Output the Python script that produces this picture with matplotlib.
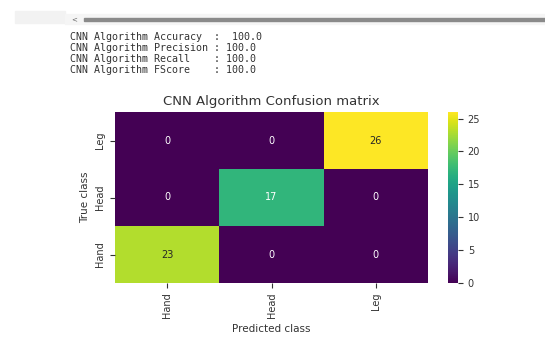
import matplotlib
matplotlib.use("Agg")
import matplotlib.pyplot as plt
import seaborn as sns
import numpy as np

# Printed metrics above the plot
algo = "CNN Algorithm"
metric_names = ["Accuracy  :  ", "Precision : ", "Recall    : ", "FScore    : "]
metric_values = [100.0, 100.0, 100.0, 100.0]

# Confusion matrix, rows as displayed top to bottom
row_labels = ["Leg", "Head", "Hand"]
col_labels = ["Hand", "Head", "Leg"]
conf = np.array([
    [0, 0, 26],
    [0, 17, 0],
    [23, 0, 0],
])

W, H = 545, 341
fig = plt.figure(figsize=(W / 100, H / 100), dpi=100)

# notebook scrollbar strip
fig.patches.append(plt.Rectangle((15 / W, 1 - 23 / H), 50 / W, 12 / H,
                                 transform=fig.transFigure, color="#f2f2f2", zorder=0))
fig.patches.append(plt.Rectangle((65 / W, 1 - 24 / H), (W - 65) / W, 10 / H,
                                 transform=fig.transFigure, color="#f5f5f5", zorder=0))
fig.patches.append(plt.Rectangle((84 / W, 1 - 21 / H), (W - 84) / W, 3.5 / H,
                                 transform=fig.transFigure, color="#8a8a8a", zorder=1))
fig.text(71 / W, 1 - 19 / H, "<", fontsize=5, color="#666666", va="center")

for i, (name, val) in enumerate(zip(metric_names, metric_values)):
    fig.text(70 / W, 1 - (37 + 11 * i) / H, f"{algo} {name}{val}",
             family="DejaVu Sans Mono", fontsize=7.2, color="#333333", va="center")

ax = fig.add_axes([115 / W, 58 / H, 313 / W, 171 / H])
cax = fig.add_axes([448 / W, 58 / H, 10 / W, 171 / H])
sns.heatmap(conf, annot=True, fmt="d", cmap="viridis", ax=ax, cbar_ax=cax,
            xticklabels=col_labels, yticklabels=row_labels,
            annot_kws={"fontsize": 7})
ax.set_title("CNN Algorithm Confusion matrix", fontsize=9.5, color="#333333", pad=5)
ax.set_xlabel("Predicted class", fontsize=7.5, color="#333333")
ax.set_ylabel("True class", fontsize=7.5, color="#333333")
ax.tick_params(labelsize=7, colors="#333333")
plt.setp(ax.get_xticklabels(), rotation=90)
plt.setp(ax.get_yticklabels(), rotation=90, va="center")
cax.tick_params(labelsize=7, colors="#333333")
cax.set_yticks([0, 5, 10, 15, 20, 25])

fig.savefig("out.png", dpi=100)
